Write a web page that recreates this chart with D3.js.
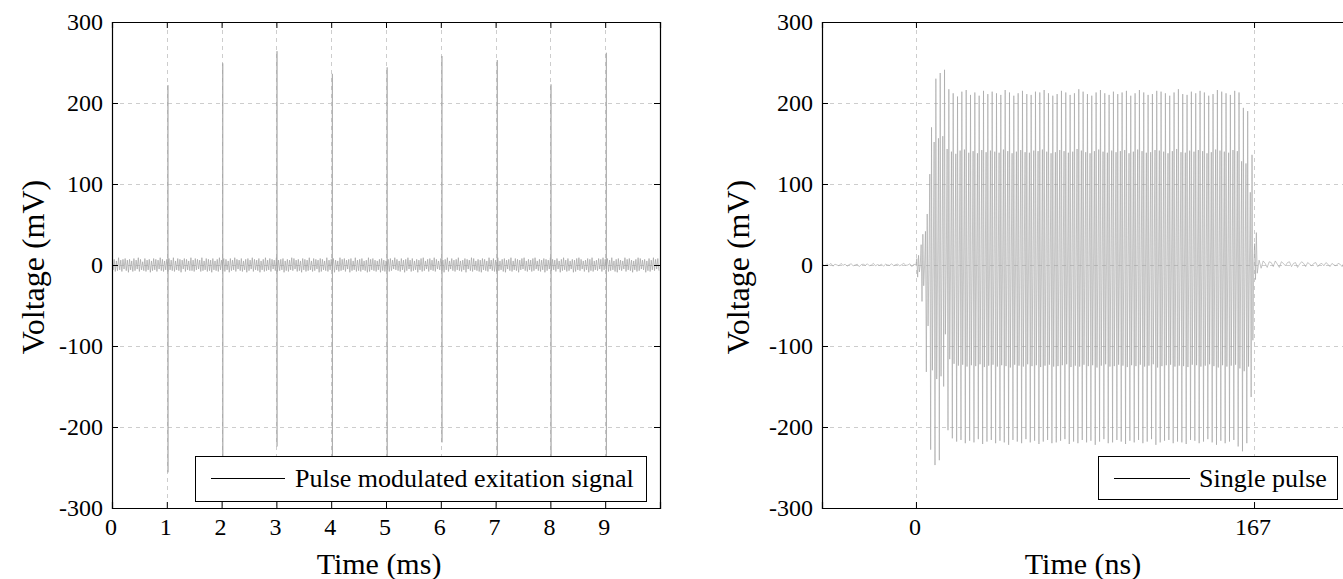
<!DOCTYPE html>
<html><head><meta charset="utf-8">
<script src="https://cdn.jsdelivr.net/npm/d3@7"></script>
<style>
body{margin:0;background:#fff}
svg{display:block}
svg text{font-family:"Liberation Serif","Times New Roman",serif;fill:#000}
</style>
</head><body>
<svg id="c" width="1343" height="579"></svg>
<script>
// ---------------- DATA ----------------
const voltageTicks = [-300, -200, -100, 0, 100, 200, 300];
const voltageGrid = [-200, -100, 0, 100, 200];
const msTicks = [0, 1, 2, 3, 4, 5, 6, 7, 8, 9];
const msGrid = [1, 2, 3, 4, 5, 6, 7, 8, 9];
const nsTicks = [0, 167];
const leftLegend = "Pulse modulated exitation signal";
const rightLegend = "Single pulse";

// left panel: pulses every ~1 ms (time in ms, peak values in mV)
const pulseTimes = [1.02, 2.02, 3.01, 4.02, 5.02, 6.02, 7.03, 8.01, 9.02];
const pulseMax = [222, 249, 264, 236, 244, 258, 253, 223, 262];
const pulseMin = [-256, -246, -224, -248, -247, -219, -235, -246, -247];
// left panel: baseline ripple (mV), sampled every 0.02 ms from 0 to 10 ms
const baselineStep = 0.02;
const baselineRipple = [
 8,-6,7,-8,5,-7,9,-6,6,-8,7,-5,8,-7,6,-9,7,-6,5,-8,8,-7,6,-5,9,-8,7,-6,4,-7,8,-8,6,-6,7,-9,5,-7,8,-6,7,-8,6,-5,9,-7,7,-8,5,-6,
 7,-8,8,-6,6,-7,9,-8,5,-6,8,-7,7,-9,6,-5,8,-8,7,-6,5,-7,9,-7,6,-8,8,-6,7,-5,6,-8,9,-7,5,-6,8,-8,7,-7,6,-9,8,-6,5,-7,7,-8,9,-6,
 6,-7,8,-8,7,-6,5,-9,8,-7,6,-6,9,-8,7,-5,6,-7,8,-8,5,-6,7,-9,8,-7,6,-5,9,-8,7,-6,6,-7,8,-9,5,-6,7,-8,9,-7,6,-6,8,-8,7,-5,6,-7,
 9,-8,6,-7,7,-6,8,-9,5,-7,7,-8,6,-6,9,-7,8,-5,6,-8,7,-7,5,-9,8,-6,7,-8,6,-7,9,-6,5,-8,8,-7,7,-5,6,-9,8,-8,7,-6,5,-7,9,-8,6,-6,
 7,-7,8,-9,6,-6,5,-8,9,-7,7,-6,8,-8,6,-5,7,-9,8,-7,5,-6,9,-8,6,-7,7,-8,8,-6,5,-7,6,-9,9,-8,7,-6,8,-7,6,-8,5,-6,7,-9,8,-7,6,-8,
 5,-6,7,-8,8,-7,6,-5,9,-6,7,-7,5,-8,8,-6,6,-9,7,-7,9,-5,6,-8,8,-7,5,-6,7,-9,6,-6,8,-8,9,-7,5,-5,7,-8,8,-6,6,-7,9,-8,7,-5,5,-6,
 8,-7,6,-9,7,-6,9,-8,5,-5,8,-7,6,-8,7,-6,9,-7,5,-8,6,-6,8,-9,7,-5,6,-7,9,-8,8,-6,5,-7,7,-8,6,-9,8,-6,7,-7,5,-8,9,-5,6,-7,8,-8,
 6,-8,9,-7,5,-6,7,-8,8,-9,6,-5,7,-7,9,-8,5,-6,8,-7,7,-9,6,-6,8,-5,9,-7,5,-8,7,-6,6,-8,8,-7,9,-5,5,-7,7,-8,6,-6,8,-9,7,-7,6,-5,
 9,-7,7,-6,6,-8,8,-5,5,-9,7,-7,9,-6,6,-8,8,-7,5,-5,7,-9,6,-8,8,-6,9,-7,7,-5,5,-8,6,-6,8,-9,7,-7,9,-8,5,-6,6,-7,8,-5,7,-8,9,-6,
 7,-5,8,-8,6,-7,9,-6,5,-8,7,-9,8,-6,6,-7,5,-5,9,-8,7,-6,8,-7,6,-9,5,-6,7,-8,9,-7,8,-5,6,-6,7,-9,5,-7,8,-8,6,-6,9,-7,7,-5,8,-7
];

// right panel (time in ns)
const nsDomain = [-46.4, 214.4];
const preStart = -46, noiseStep = 1;
const preNoise = [0.5,-1,1.5,-0.5,2,-1.5,1,0,-1,2,-0.5,1,-1.5,0.5,1.5,-1,0,1,-2,0.5,1,-0.5,1.5,-1,0,2,-1,0.5,-0.5,1,-1.5,1,0,-0.5,1.5,-1,0.5,1,-1,0.5,2,-0.5,0,1.5,-2,1];
const burstEnd = 169;
const burstPeaks = [12,38,63,170,230,237,241,217,212,208,214,216,210,213,209,215,211,214,212,210,216,213,209,212,215,211,210,214,213,216,212,209,211,215,213,210,212,217,214,211,209,213,216,212,210,214,211,213,215,209,212,216,213,210,211,215,214,212,209,213,217,211,210,214,212,215,213,209,211,216,214,212,210,215,213,194,190,136,40];
const burstTroughs = [-15,-45,-132,-228,-247,-241,-150,-204,-214,-218,-216,-220,-217,-219,-215,-221,-218,-216,-220,-217,-219,-222,-216,-218,-220,-215,-219,-217,-221,-218,-216,-220,-219,-217,-215,-221,-218,-220,-216,-219,-217,-222,-218,-215,-220,-219,-216,-218,-221,-217,-219,-216,-220,-218,-215,-222,-219,-217,-216,-220,-218,-219,-221,-216,-217,-220,-218,-215,-219,-222,-217,-220,-218,-216,-224,-230,-220,-163,-18];
// inner sample levels as a fraction of the outer peak / trough (≈140 and ≈-125 mV)
const innerHighRatio = 0.66, innerLowRatio = 0.57;
const postNoise = [6,-4,5,2,-3,4,3,-2,5,1,-3,4,2,-1,3,4,-2,2,3,-3,1,4,2,-2,3,1,-1,2,3,-2,1,2,-1,3,1,-2,2,0,-1,2,1,-2,3,1,0,2];

// ---------------- DRAW ----------------
const svg = d3.select("#c");
const SERIF = "'Liberation Serif','Times New Roman',serif";
const FONT_TICK = 24, FONT_LABEL = 30, FONT_YLABEL = 32, FONT_LEG = 26;
const gridColor = "#cdcdcd";
const plotTop = 22, plotBottom = 508;
const crisp = v => Math.round(v) + 0.5;

function panel(opt) {
  const g = svg.append("g");
  const x = d3.scaleLinear().domain(opt.xDomain).range([opt.x0, opt.x1]);
  const y = d3.scaleLinear().domain([-300, 300]).range([plotBottom, plotTop]);
  const clipId = "clip" + opt.id;
  svg.append("clipPath").attr("id", clipId).append("rect")
    .attr("x", opt.x0).attr("y", plotTop).attr("width", opt.x1 - opt.x0).attr("height", plotBottom - plotTop);
  // grid
  g.selectAll(".hg").data(voltageGrid).join("line")
    .attr("x1", opt.x0).attr("x2", opt.x1).attr("y1", d => crisp(y(d))).attr("y2", d => crisp(y(d)))
    .attr("stroke", gridColor).attr("stroke-dasharray", "4,4").attr("stroke-width", 1);
  g.selectAll(".vg").data(opt.xGrid).join("line")
    .attr("x1", d => crisp(x(d))).attr("x2", d => crisp(x(d))).attr("y1", plotTop).attr("y2", plotBottom)
    .attr("stroke", gridColor).attr("stroke-dasharray", "4,4").attr("stroke-width", 1);
  // data
  g.append("path").datum(opt.series)
    .attr("clip-path", `url(#${clipId})`)
    .attr("fill", "none").attr("stroke", opt.color).attr("stroke-width", opt.width)
    .attr("stroke-linejoin", "miter").attr("stroke-miterlimit", 2)
    .attr("d", d3.line().x(d => x(d[0])).y(d => y(d[1])));
  // axes (inward ticks)
  const ax = g.append("g");
  ax.append("g").attr("transform", `translate(0,${plotBottom})`)
    .call(d3.axisBottom(x).tickValues(opt.xTicks).tickSize(-6).tickFormat(() => ""));
  ax.append("g").attr("transform", `translate(0,${plotTop})`)
    .call(d3.axisTop(x).tickValues(opt.xTicks).tickSize(-6).tickFormat(() => ""));
  ax.append("g").attr("transform", `translate(${opt.x0},0)`)
    .call(d3.axisLeft(y).tickValues(voltageTicks).tickSize(-6).tickFormat(() => ""));
  ax.append("g").attr("transform", `translate(${opt.x1},0)`)
    .call(d3.axisRight(y).tickValues(voltageTicks).tickSize(-6).tickFormat(() => ""));
  ax.selectAll(".domain").attr("stroke", "#000").attr("stroke-width", 1.2);
  ax.selectAll(".tick line").attr("stroke", "#000");
  // tick labels
  g.selectAll(".yl").data(voltageTicks).join("text")
    .style("font-family", SERIF)
    .attr("x", opt.x0 - 9).attr("y", d => y(d)).attr("dy", "0.35em")
    .attr("text-anchor", "end").attr("font-size", FONT_TICK).text(d => d);
  g.selectAll(".xl").data(opt.xTicks).join("text")
    .style("font-family", SERIF)
    .attr("x", d => x(d) - 1).attr("y", plotBottom + 27)
    .attr("text-anchor", "middle").attr("font-size", FONT_TICK).text(d => d);
  // axis labels
  g.append("text").style("font-family", SERIF)
    .attr("transform", `translate(${opt.yLabelX},267) rotate(-90)`)
    .attr("dy", "0.35em").attr("text-anchor", "middle").attr("font-size", FONT_YLABEL)
    .text("Voltage (mV)");
  g.append("text").style("font-family", SERIF)
    .attr("x", opt.xLabelX).attr("y", 574)
    .attr("text-anchor", "middle").attr("font-size", FONT_LABEL).text(opt.xLabel);
  // legend
  const L = opt.legend;
  g.append("rect").attr("x", L.x + 0.5).attr("y", L.y + 0.5).attr("width", L.w).attr("height", L.h)
    .attr("fill", "#fff").attr("stroke", "#000").attr("stroke-width", 1);
  g.append("line").attr("x1", L.x + 16).attr("x2", L.x + 16 + L.line)
    .attr("y1", L.y + 22.5).attr("y2", L.y + 22.5)
    .attr("stroke", "#000").attr("stroke-width", 1);
  g.append("text").style("font-family", SERIF)
    .attr("x", L.x + L.tx).attr("y", L.y + 22).attr("dy", "0.33em")
    .attr("font-size", FONT_LEG).text(L.text);
}

// left series
const leftSeries = baselineRipple.map((v, i) => [i * baselineStep, v]);
pulseTimes.forEach((t, i) => {
  leftSeries.push([t, 0], [t + 0.001, pulseMax[i]], [t + 0.002, pulseMin[i]], [t + 0.003, 0]);
});
leftSeries.sort((a, b) => a[0] - b[0]);

// right series: 5 samples per group, aliased order 0, inner-high, trough, peak, inner-low
const rightSeries = preNoise.map((v, i) => [preStart + i * noiseStep, v]);
const nC = Math.min(burstPeaks.length, burstTroughs.length);
const period = burstEnd / nC;
for (let k = 0; k < nC; k++) {
  const t0 = k * period, P = burstPeaks[k], T = burstTroughs[k];
  const lv = [0, P * innerHighRatio, T, P, T * innerLowRatio];
  lv.forEach((v, j) => rightSeries.push([t0 + j * period / 5, v]));
}
postNoise.forEach((v, i) => rightSeries.push([burstEnd + 0.5 + i * noiseStep, v]));

panel({
  id: "L", x0: 112, x1: 660, xDomain: [0, 10], xTicks: msTicks, xGrid: msGrid,
  series: leftSeries, color: "#a2a2a2", width: 0.7,
  yLabelX: 33, xLabelX: 379, xLabel: "Time (ms)",
  legend: { x: 195, y: 456, w: 451, h: 45, line: 74, tx: 100, text: leftLegend }
});
panel({
  id: "R", x0: 822, x1: 1350, xDomain: nsDomain, xTicks: nsTicks, xGrid: nsTicks,
  series: rightSeries, color: "#a0a0a0", width: 0.6,
  yLabelX: 738, xLabelX: 1083, xLabel: "Time (ns)",
  legend: { x: 1098, y: 456, w: 239, h: 43, line: 76, tx: 101, text: rightLegend }
});
</script>
</body></html>
